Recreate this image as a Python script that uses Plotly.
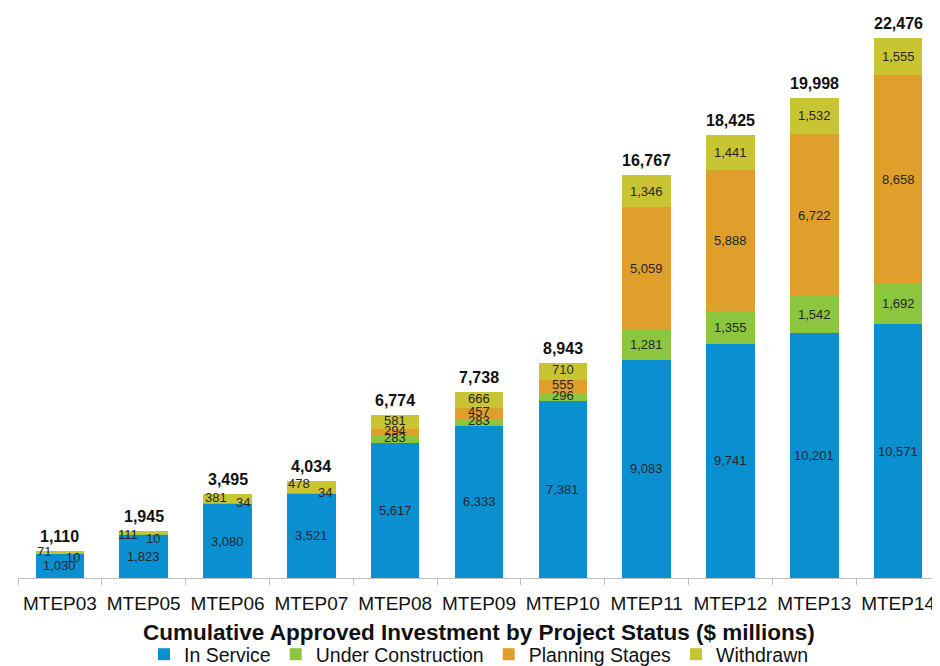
import plotly.graph_objects as go

categories = ["MTEP03", "MTEP05", "MTEP06", "MTEP07", "MTEP08", "MTEP09",
              "MTEP10", "MTEP11", "MTEP12", "MTEP13", "MTEP14"]
in_service = [1030, 1823, 3080, 3521, 5617, 6333, 7381, 9083, 9741, 10201, 10571]
under_construction = [10, 10, 34, 34, 283, 283, 296, 1281, 1355, 1542, 1692]
planning = [0, 0, 0, 0, 294, 457, 555, 5059, 5888, 6722, 8658]
withdrawn = [71, 111, 381, 478, 581, 666, 710, 1346, 1441, 1532, 1555]
totals = [1110, 1945, 3495, 4034, 6774, 7738, 8943, 16767, 18425, 19998, 22476]

series = [
    ("In Service", in_service, "#0A8FD1"),
    ("Under Construction", under_construction, "#8CC63F"),
    ("Planning Stages", planning, "#E09F2A"),
    ("Withdrawn", withdrawn, "#C9C431"),
]

# pixel nudges for labels of thin segments (label placement only)
label_nudge = {
    ("Withdrawn", 0): (-16, 1), ("Under Construction", 0): (13, -4),
    ("Withdrawn", 1): (-16, -2), ("Under Construction", 1): (9, -4),
    ("Withdrawn", 2): (-12, 1), ("Under Construction", 2): (15, 1),
    ("Withdrawn", 3): (-12, 3), ("Under Construction", 3): (14, 0),
}

fig = go.Figure()
for name, vals, color in series:
    fig.add_trace(go.Bar(x=categories, y=vals, name=name, marker_color=color,
                         marker_line_width=0, hoverinfo="y+name"))

FONT = "Liberation Sans, Arial, sans-serif"
annotations = []
base = [0] * len(categories)
for name, vals, color in series:
    for i, v in enumerate(vals):
        if v > 0:
            xs, ys = label_nudge.get((name, i), (0, 0))
            if (name, i) not in label_nudge and name != "In Service" and v < 1000:
                ys = 2
            annotations.append(dict(
                x=categories[i], y=base[i] + v / 2, text=f"{v:,}",
                showarrow=False, xshift=xs, yshift=ys,
                font=dict(family=FONT, size=13, color="#262626")))
        base[i] += v

for i, t in enumerate(totals):
    annotations.append(dict(
        x=categories[i], y=t, text=f"<b>{t:,}</b>", showarrow=False,
        yanchor="bottom", yshift=4,
        font=dict(family=FONT, size=16, color="#111111")))

annotations.append(dict(
    xref="paper", yref="paper", x=0.5, y=-0.0951, xanchor="center", yanchor="middle",
    text="<b>Cumulative Approved Investment by Project Status ($ millions)</b>",
    showarrow=False, font=dict(family=FONT, size=22.5, color="#111111")))

fig.update_layout(
    barmode="stack",
    bargap=0.42,
    width=932, height=658,
    margin=dict(l=10, r=0, t=2, b=88, autoexpand=False),
    paper_bgcolor="white", plot_bgcolor="white",
    font=dict(family=FONT, color="#111111"),
    annotations=annotations,
    showlegend=True,
    legend=dict(orientation="h", x=0.5, xanchor="center", y=-0.1004, yanchor="top",
                font=dict(family=FONT, size=19.5, color="#111111"),
                traceorder="normal"),
    xaxis=dict(
        automargin=False,
        showline=True, linecolor="#BFBFBF", linewidth=1,
        ticks="outside", ticklen=6, tickcolor="#BFBFBF", tickson="boundaries",
        ticklabelstandoff=8, tickangle=0,
        tickfont=dict(family=FONT, size=19, color="#111111"),
    ),
    yaxis=dict(range=[0, 23640], visible=False, showgrid=False, automargin=False),
)

fig.write_html("out.html")
